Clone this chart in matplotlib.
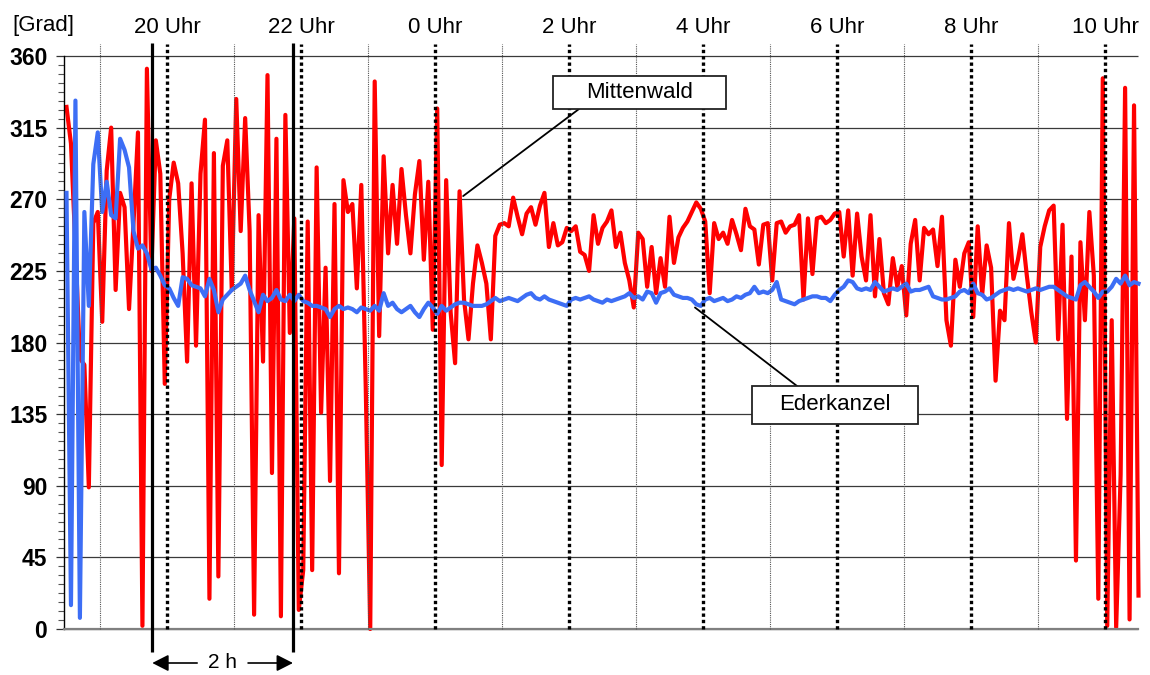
import numpy as np
import matplotlib.pyplot as plt
import matplotlib.transforms as mtransforms
from matplotlib.patches import Rectangle, ConnectionPatch
from matplotlib.ticker import MultipleLocator

plt.rcParams['font.family'] = ['Liberation Sans', 'DejaVu Sans']

# Wind direction [deg], 4-minute values from 18:30 on (hours counted past
# midnight of the first day, so 24 = 0 Uhr, 34 = 10 Uhr next morning)
START_HOUR = 18.5
STEP_MIN = 4

mittenwald = [
    328, 305, 240, 170, 166, 89, 255, 262, 193, 288, 315, 213, 274, 265, 201,
    255, 312, 2, 352, 225, 307, 286, 154, 270, 293, 280, 236, 168, 280, 178,
    286, 320, 19, 299, 33, 291, 307, 213, 333, 250, 321, 250, 9, 260, 168,
    348, 98, 308, 8, 323, 186, 258, 12, 37, 256, 37, 290, 136, 227, 93,
    267, 35, 282, 262, 267, 214, 279, 151, 0, 344, 184, 297, 236, 279, 242,
    289, 260, 236, 273, 294, 232, 281, 188, 327, 103, 282, 199, 167, 275, 207,
    182, 217, 241, 230, 217, 182, 247, 254, 255, 253, 271, 259, 248, 261, 265,
    254, 266, 274, 240, 255, 241, 243, 252, 250, 253, 237, 235, 225, 260, 242,
    252, 256, 263, 240, 249, 230, 219, 202, 249, 245, 215, 240, 211, 233, 215,
    259, 230, 246, 252, 256, 262, 268, 264, 256, 211, 255, 245, 249, 242, 257,
    248, 238, 264, 253, 251, 229, 254, 255, 219, 255, 256, 249, 253, 254, 260,
    207, 258, 223, 258, 259, 255, 257, 261, 262, 234, 263, 222, 261, 234, 219,
    260, 209, 245, 211, 204, 233, 215, 228, 197, 242, 257, 219, 252, 248, 251,
    228, 259, 194, 178, 232, 215, 236, 243, 196, 253, 210, 241, 227, 156, 200,
    194, 255, 220, 232, 248, 222, 199, 180, 240, 253, 263, 266, 182, 254, 132,
    234, 43, 243, 194, 262, 222, 19, 346, 2, 194, 1, 97, 340, 6, 329,
    21,
]

ederkanzel = [
    274, 15, 332, 7, 262, 203, 292, 312, 262, 281, 260, 258, 308, 301, 290,
    250, 239, 241, 236, 226, 227, 222, 216, 214, 208, 203, 221, 220, 216, 215,
    214, 209, 220, 213, 199, 207, 210, 213, 215, 217, 222, 213, 206, 199, 210,
    206, 208, 213, 207, 206, 210, 206, 210, 206, 205, 203, 203, 202, 201, 196,
    201, 203, 201, 202, 201, 199, 202, 201, 200, 203, 200, 211, 203, 205, 201,
    199, 201, 203, 199, 196, 201, 205, 202, 198, 203, 200, 202, 204, 205, 205,
    204, 203, 203, 203, 204, 206, 208, 206, 207, 208, 207, 206, 208, 210, 211,
    208, 207, 209, 207, 206, 205, 204, 203, 207, 208, 207, 208, 209, 207, 206,
    205, 207, 206, 207, 208, 209, 211, 208, 209, 207, 212, 211, 205, 211, 212,
    214, 210, 209, 208, 208, 207, 204, 203, 207, 208, 206, 207, 208, 206, 207,
    209, 208, 210, 211, 215, 211, 212, 211, 213, 218, 207, 206, 205, 204, 206,
    207, 208, 209, 209, 208, 208, 206, 210, 213, 215, 219, 218, 214, 213, 214,
    213, 218, 215, 212, 213, 214, 213, 215, 217, 212, 213, 213, 214, 215, 209,
    208, 207, 207, 208, 209, 212, 213, 211, 217, 211, 210, 207, 208, 210, 212,
    213, 214, 213, 214, 213, 212, 213, 214, 213, 214, 215, 215, 213, 211, 209,
    208, 207, 216, 218, 215, 212, 208, 212, 212, 215, 220, 217, 222, 216, 218,
    217,
]

label_hours = list(range(20, 35, 2))
hour_labels = [f"{h % 24} Uhr" for h in label_hours]
odd_hours = list(range(19, 35, 2))
window = [19.78, 21.88]          # the 2 h interval
y_ticks = list(range(0, 361, 45))

# points on the curves the captions refer to
mittenwald_ref = (24.42, 272)
ederkanzel_ref = (27.88, 202)

t = START_HOUR + np.arange(len(mittenwald)) * STEP_MIN / 60.0

W, H = 1150, 675
fig = plt.figure(figsize=(W / 100, H / 100), dpi=100)
ax = fig.add_axes([64 / W, 46 / H, 1074 / W, 573 / H])
ax.set_xlim(18.4627, 34.4925)
ax.set_ylim(0, 360)

# horizontal grid
ax.hlines(y_ticks, 18.4627, 34.4925, colors='#3a3a3a', lw=0.9,
          zorder=0.5, clip_on=False)

ax.plot(t, mittenwald, color='#ff0000', lw=3.0, zorder=2, clip_on=False)
ax.plot(t, ederkanzel, color='#3d6ef5', lw=3.0, zorder=3, clip_on=False)

# hour markers, reaching a little above the frame
top = 367.5
ax.vlines(odd_hours, 0, top, colors='#555555', lw=0.8,
          linestyles=(0, (1, 1)), zorder=4, clip_on=False)
ax.vlines(label_hours, 0, top, colors='black', lw=2.4,
          linestyles=(0, (1.0, 0.9)), zorder=4, clip_on=False)
ax.vlines(window, -14.5, 368, colors='black', lw=2.3, zorder=5,
          clip_on=False)

# axes styling
for s in ('top', 'right'):
    ax.spines[s].set_visible(False)
ax.spines['left'].set_color('black')
ax.spines['left'].set_linewidth(1.0)
ax.spines['bottom'].set_color('#808080')
ax.spines['bottom'].set_linewidth(1.6)

ax.set_yticks(y_ticks)
ax.yaxis.set_minor_locator(MultipleLocator(45 / 8))
ax.tick_params(axis='y', which='major', length=6, width=0.9, color='#333333',
               pad=6, labelsize=16.5)
ax.tick_params(axis='y', which='minor', length=4, width=0.8, color='#555555')
for lab in ax.get_yticklabels():
    lab.set_fontweight('bold')

ax.xaxis.tick_top()
ax.set_xticks(label_hours)
ax.set_xticklabels(hour_labels, fontsize=16)
ax.tick_params(axis='x', length=0, pad=13)
ax.xaxis.set_minor_locator(plt.NullLocator())

fig.text(12 / W, 1 - 31 / H, '[Grad]', fontsize=16, ha='left', va='baseline')

# caption boxes with leader lines
def caption(text, x0, y0, x1, y1, anchor, ref):
    fig.add_artist(Rectangle((x0 / W, 1 - y1 / H), (x1 - x0) / W,
                             (y1 - y0) / H, transform=fig.transFigure,
                             facecolor='white', edgecolor='#222222',
                             lw=1.3, zorder=6))
    fig.text((x0 + x1) / 2 / W, 1 - (y0 + y1) / 2 / H, text, fontsize=16,
             ha='center', va='center', zorder=7)
    fig.add_artist(ConnectionPatch(
        xyA=(anchor[0] / W, 1 - anchor[1] / H), coordsA='figure fraction',
        xyB=ref, coordsB='data', axesB=ax, color='black', lw=1.3, zorder=5))

caption('Mittenwald', 553, 76, 726, 109, (579, 109), mittenwald_ref)
caption('Ederkanzel', 752, 386, 918, 424, (797, 386), ederkanzel_ref)

# "2 h" span below the axis
trans = mtransforms.blended_transform_factory(ax.transData, fig.transFigure)
y_arr = 12 / H
mid = sum(window) / 2
arrow = dict(arrowstyle='-|>,head_length=0.55,head_width=0.28', color='black',
             lw=1.2, mutation_scale=18, shrinkA=0, shrinkB=0)
ax.annotate('', xy=(window[0], y_arr), xycoords=trans,
            xytext=(mid - 0.38, y_arr), textcoords=trans, arrowprops=arrow)
ax.annotate('', xy=(window[1], y_arr), xycoords=trans,
            xytext=(mid + 0.38, y_arr), textcoords=trans, arrowprops=arrow)
ax.text(mid, y_arr, '2 h', transform=trans, ha='center', va='center',
        fontsize=15)

fig.savefig('out.png', dpi=100)
